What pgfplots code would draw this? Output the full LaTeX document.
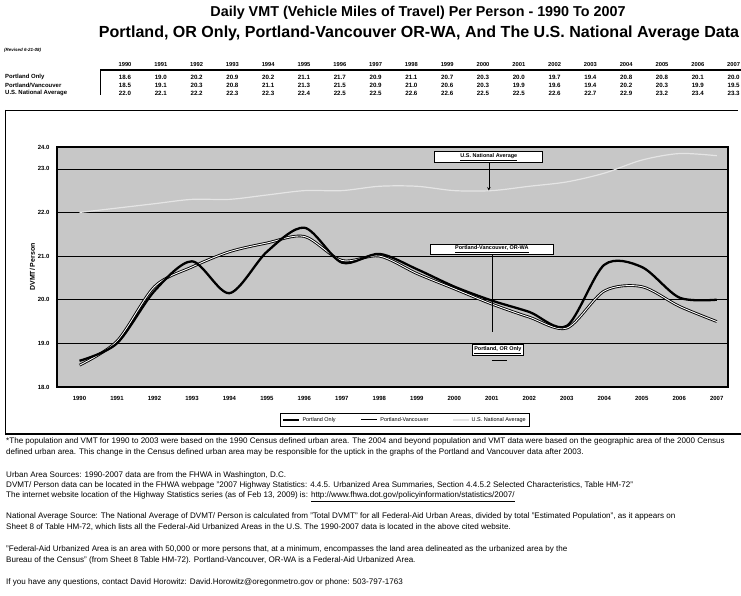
\documentclass[border=0pt]{standalone}
\usepackage{fontspec}
\setmainfont{Liberation Sans}
\usepackage{pgfplots}
\pgfplotsset{compat=1.18}
\usepackage{pgfplotstable}

\pgfplotstableread{
year po pv us
1990 18.60 18.50 22.00
1991 19.00 19.05 22.10
1992 20.20 20.30 22.20
1993 20.88 20.75 22.30
1994 20.15 21.10 22.30
1995 21.10 21.30 22.40
1996 21.65 21.45 22.50
1997 20.85 20.90 22.50
1998 21.05 21.00 22.60
1999 20.70 20.60 22.60
2000 20.30 20.25 22.50
2001 19.98 19.90 22.50
2002 19.72 19.60 22.60
2003 19.40 19.35 22.70
2004 20.80 20.20 22.90
2005 20.75 20.30 23.20
2006 20.05 19.85 23.35
2007 20.00 19.50 23.30
}\vmtdata

\begin{document}
\begin{tikzpicture}[x=1bp,y=1bp]
\path[use as bounding box] (0,0) rectangle (741,596);

% titles
\node at (418,583) {\resizebox{415bp}{!}{\bfseries Daily VMT (Vehicle Miles of Travel) Per Person - 1990 To 2007}};
\node at (419,563) {\resizebox{640bp}{!}{\bfseries Portland, OR Only, Portland-Vancouver OR-WA, And The U.S. National Average Data}};
\node[anchor=west,font=\bfseries\itshape\fontsize{4.5}{5}\selectfont,inner sep=0] at (4,546) {(Revised 6-21-08)};

% data table
\foreach \yr [count=\i from 0] in {1990,...,2007}
  \node[font=\bfseries\fontsize{5.8}{6}\selectfont,inner sep=0] at (125+35.8*\i,531) {\yr};
\draw[line width=1.3pt] (100,526) -- (741,526);
\draw[line width=1pt] (100,526) -- (100,501);
\foreach \v [count=\i from 0] in {18.6,19.0,20.2,20.9,20.2,21.1,21.7,20.9,21.1,20.7,20.3,20.0,19.7,19.4,20.8,20.8,20.1,20.0}
  \node[font=\bfseries\fontsize{6.2}{7}\selectfont,inner sep=0] at (125+35.8*\i,519) {\v};
\foreach \v [count=\i from 0] in {18.5,19.1,20.3,20.8,21.1,21.3,21.5,20.9,21.0,20.6,20.3,19.9,19.6,19.4,20.2,20.3,19.9,19.5}
  \node[font=\bfseries\fontsize{6.2}{7}\selectfont,inner sep=0] at (125+35.8*\i,511) {\v};
\foreach \v [count=\i from 0] in {22.0,22.1,22.2,22.3,22.3,22.4,22.5,22.5,22.6,22.6,22.5,22.5,22.6,22.7,22.9,23.2,23.4,23.3}
  \node[font=\bfseries\fontsize{6.2}{7}\selectfont,inner sep=0] at (125+35.8*\i,503) {\v};
\node[anchor=west,font=\bfseries\fontsize{6}{7}\selectfont,inner sep=0] at (5,519) {Portland Only};
\node[anchor=west,font=\bfseries\fontsize{6}{7}\selectfont,inner sep=0] at (5,511) {Portland/Vancouver};
\node[anchor=west,font=\bfseries\fontsize{6}{7}\selectfont,inner sep=0] at (5,503) {U.S. National Average};

% outer frame
\draw[line width=0.6pt] (5,486) -- (5,162);
\draw[line width=0.4pt] (5,486) -- (738,486);
\draw[line width=1.4pt] (5,162) -- (741,162);

\begin{axis}[
  at={(57bp,209bp)}, anchor=south west,
  width=671bp, height=240bp, scale only axis,
  xmin=1989.4, xmax=2007.3, ymin=18, ymax=23.5,
  xtick={1990,...,2007},
  xticklabels={1990,1991,1992,1993,1994,1995,1996,1997,1998,1999,2000,2001,2002,2003,2004,2005,2006,2007},
  ytick={18,19,20,21,22,23,23.5},
  yticklabels={18.0,19.0,20.0,21.0,22.0,23.0,24.0},
  tick label style={font=\bfseries\fontsize{6}{7}\selectfont},
  xticklabel style={yshift=-6bp},
  yticklabel style={xshift=-4bp},
  major tick length=0pt,
  ymajorgrids, grid style={black, line width=0.6pt},
  axis line style={black, line width=1.1pt},
  axis background/.style={fill=black!22},
  ylabel={DVMT/ Person},
  ylabel style={font=\bfseries\fontsize{7}{8}\selectfont, yshift=-4bp},
  legend columns=3,
  reverse legend,
  legend style={at={(axis description cs:0.5186,-0.1375)}, anchor=center,
    draw=black, line width=0.6pt, fill=white,
    font=\fontsize{5.5}{6}\selectfont, inner sep=2bp,
    /tikz/every even column/.append style={column sep=22bp}},
  legend image code/.code={\draw[#1] (0bp,0bp) -- (16bp,0bp);},
]
\addplot[white!90!black, line width=1.2pt, smooth, tension=0.5] table[x=year,y=us]{\vmtdata};
\addplot[black, line width=0.9pt, double=white, double distance=0.9pt, smooth, tension=0.5] table[x=year,y=pv]{\vmtdata};
\addplot[black, line width=2.3pt, smooth, tension=0.5] table[x=year,y=po]{\vmtdata};
\legend{U.S. National Average, Portland-Vancouver, Portland Only}

\draw[-stealth, line width=0.6pt] (axis cs:2000.92,23.15) -- (axis cs:2000.92,22.5);
\node[draw, line width=1pt, fill=white, inner sep=1.5bp, font=\bfseries\fontsize{5.5}{6}\selectfont, minimum width=108bp] at (axis cs:2000.92,23.27) {\underline{U.S. National Average}};
\draw[line width=0.6pt] (axis cs:2001.0,21.02) -- (axis cs:2001.0,19.25);
\node[draw, line width=1pt, fill=white, inner sep=1.5bp, font=\bfseries\fontsize{5.5}{6}\selectfont, minimum width=123bp] at (axis cs:2001.0,21.16) {\underline{Portland-Vancouver, OR-WA}};
\draw[line width=0.6pt] (axis cs:2001.0,18.62) -- (axis cs:2001.4,18.62);
\node[draw, line width=1.2pt, fill=white, inner sep=2bp, font=\bfseries\fontsize{5.5}{6}\selectfont] at (axis cs:2001.16,18.84) {\underline{Portland, OR Only}};
\end{axis}

% footnotes
\begin{scope}[every node/.style={anchor=base west, inner sep=0, font=\fontsize{8.1}{9}\selectfont}]
\node at (6,596-444) {*The population and VMT for 1990 to 2003 were based on the 1990 Census defined urban area. The 2004 and beyond population and VMT data were based on the geographic area of the 2000 Census};
\node at (6,596-455) {defined urban area. This change in the Census defined urban area may be responsible for the uptick in the graphs of the Portland and Vancouver data after 2003.};
\node at (6,596-478) {Urban Area Sources: 1990-2007 data are from the FHWA in Washington, D.C.};
\node at (6,596-488) {DVMT/ Person data can be located in the FHWA webpage "2007 Highway Statistics: 4.4.5. Urbanized Area Summaries, Section 4.4.5.2 Selected Characteristics, Table HM-72"};
\node at (6,596-498) {The internet website location of the Highway Statistics series (as of Feb 13, 2009) is: \underline{http://www.fhwa.dot.gov/policyinformation/statistics/2007/}};
\node at (6,596-519) {National Average Source: The National Average of DVMT/ Person is calculated from "Total DVMT" for all Federal-Aid Urban Areas, divided by total "Estimated Population", as it appears on};
\node at (6,596-530) {Sheet 8 of Table HM-72, which lists all the Federal-Aid Urbanized Areas in the U.S. The 1990-2007 data is located in the above cited website.};
\node at (6,596-552) {"Federal-Aid Urbanized Area is an area with 50,000 or more persons that, at a minimum, encompasses the land area delineated as the urbanized area by the};
\node at (6,596-563) {Bureau of the Census" (from Sheet 8 Table HM-72). Portland-Vancouver, OR-WA is a Federal-Aid Urbanized Area.};
\node at (6,596-585) {If you have any questions, contact David Horowitz: David.Horowitz@oregonmetro.gov or phone: 503-797-1763};
\end{scope}
\end{tikzpicture}
\end{document}
